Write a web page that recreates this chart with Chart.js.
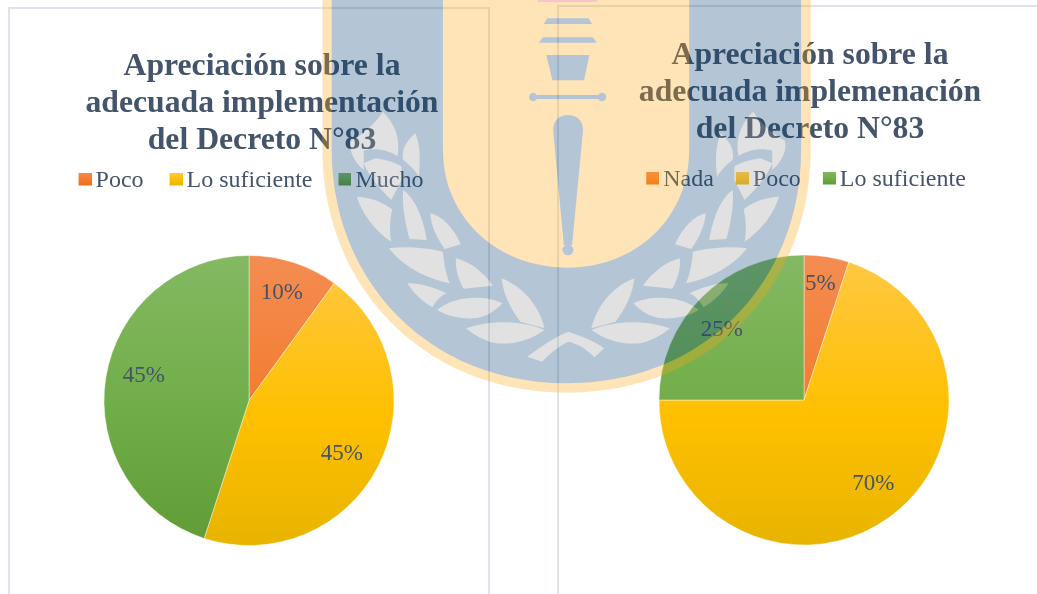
<!DOCTYPE html>
<html><head><meta charset="utf-8">
<script src="https://cdn.jsdelivr.net/npm/chart.js@4"></script>
<style>
html,body{margin:0;padding:0;background:#fff;width:1037px;height:594px;overflow:hidden}
#stage{position:relative;width:1037px;height:594px;overflow:hidden}
.frame{position:absolute;border:2px solid #DDE4EB;box-sizing:border-box}
#f1{left:8px;top:7px;width:482px;height:620px}
#f2{left:557px;top:5px;width:520px;height:620px}
canvas{position:absolute;top:0}
#mark{position:absolute;left:0;top:0;opacity:.3;pointer-events:none}
</style></head><body>
<div id="stage">
<div class="frame" id="f1"></div><div class="frame" id="f2"></div>
<div style="position:absolute;left:9px;top:0;width:480px;height:594px"><canvas id="c1"></canvas></div>
<div style="position:absolute;left:559px;top:0;width:490px;height:594px"><canvas id="c2"></canvas></div>
<svg id="mark" width="1037" height="594" viewBox="0 0 1037 594">
<defs><g id="leaves" fill="#9B9B9B">
<path d="M240,335 C285,380 290,430 283,468 C245,445 210,445 185,452 L185,510 C150,480 140,440 150,420 C175,410 220,370 240,335Z"/>
<path d="M335,400 C300,430 295,460 300,480 C325,500 340,520 345,530 C350,480 350,440 335,400Z"/>
<path d="M218,475 C250,478 280,490 295,500 L295,540 L265,600 C235,570 200,530 185,490Z"/>
<path d="M165,590 C210,592 245,610 268,628 C260,660 260,695 265,725 C215,690 180,640 165,590Z"/>
<path d="M300,570 C340,600 360,670 368,720 L318,717 C305,670 295,610 300,570Z"/>
<path d="M378,640 C420,650 450,695 467,733 L420,747 C395,710 380,675 378,640Z"/>
<path d="M258,745 C310,738 370,745 415,755 C418,795 425,825 435,850 C365,835 300,800 258,745Z"/>
<path d="M453,775 C495,785 535,820 560,857 L475,866 C460,840 450,805 453,775Z"/>
<path d="M312,850 C350,848 395,865 425,880 C405,890 393,905 385,922 C355,905 330,880 312,850Z"/>
<path d="M398,930 C450,885 540,885 588,910 C565,935 540,950 510,955 C470,957 430,950 398,930Z"/>
<path d="M585,835 C650,860 695,920 710,985 L640,965 C610,925 590,880 585,835Z"/>
<path d="M482,985 C550,960 640,960 710,990 C670,1020 620,1035 570,1030 C540,1025 505,1005 482,985Z"/>
</g></defs>
<g transform="translate(300 0) scale(.3444 .3333)">
<path fill="#FFA512" d="M65,-5 L65,450 C65,850 350,1178 775,1178 C1200,1178 1483,850 1483,450 L1483,-5Z"/>
<path fill="#084476" d="M92,-5 L92,450 C92,840 370,1150 775,1150 C1180,1150 1455,840 1455,450 L1455,-5Z"/>
<path fill="#FFA512" d="M415,-5 L415,450 C415,650 570,803 775,803 C980,803 1130,650 1130,450 L1130,-5Z"/>
<use href="#leaves"/>
<use href="#leaves" transform="translate(1556 0) scale(-1 1)"/>
<path fill="#9B9B9B" d="M660,1070 C700,1040 740,1010 780,995 C820,1010 860,1025 883,1045 L855,1072 C830,1045 805,1030 778,1025 C750,1040 725,1060 703,1085Z"/>
<rect x="690" y="-5" width="172" height="11" fill="#E83762"/>
<g fill="#084476">
<path d="M708,72 L848,72 L838,55 L718,55Z"/>
<path d="M693,128 L862,128 L850,112 L705,112Z"/>
<path d="M715,165 L840,165 L825,241 L733,241Z"/>
<rect x="675" y="285" width="205" height="12"/>
<ellipse cx="677" cy="291" rx="12" ry="13"/><ellipse cx="877" cy="291" rx="12" ry="13"/>
<path d="M735,390 C735,360 755,345 778,345 C801,345 822,360 822,390 L790,735 L766,735Z"/>
<ellipse cx="778" cy="750" rx="16" ry="16"/>
</g>
</g>
</svg>
</div>
<script>
const titleLeft = ["Apreciación sobre la", "adecuada implementación", "del Decreto N°83"];
const titleRight = ["Apreciación sobre la", "adecuada implemenación", "del Decreto N°83"];
const categoriesLeft = ["Poco", "Lo suficiente", "Mucho"];
const valuesLeft = [10, 45, 45];
const categoriesRight = ["Nada", "Poco", "Lo suficiente"];
const valuesRight = [5, 70, 25];

const ORANGE = ["#F48C52", "#F37B2E", "#EE6E1E"];
const GOLD = ["#FFC845", "#FFC000", "#E8B400"];
const GREEN = ["#84B963", "#70AD47", "#5F9C35"];
const TEXT = "#44546A";
const SERIF = "'Liberation Serif','Times New Roman',serif";
const RADIUS = 145;

function fillStops(g, c) {
  g.addColorStop(0, c[0]); g.addColorStop(0.55, c[1]); g.addColorStop(1, c[2]);
  return g;
}
function swatch(c) {
  const s = document.createElement('canvas');
  s.width = 17; s.height = 17;
  const x = s.getContext('2d');
  x.fillStyle = fillStops(x.createLinearGradient(0, 0, 0, 13), c);
  x.fillRect(4, 0, 13, 13);
  return s;
}
const pieExtras = {
  id: 'pieExtras',
  afterLayout(chart) {
    const o = chart.options.plugins.pieExtras;
    const t = chart.titleBlock, l = chart.legend;
    t.left += o.titleDx; t.right += o.titleDx;
    l.left += o.legendDx; l.right += o.legendDx;
    const h = l.bottom - l.top;
    l.top = o.legendTop; l.bottom = l.top + h;
  },
  afterDatasetsDraw(chart) {
    const o = chart.options.plugins.pieExtras;
    const ctx = chart.ctx, meta = chart.getDatasetMeta(0), data = chart.data.datasets[0].data;
    ctx.save();
    ctx.font = "23px " + SERIF; ctx.fillStyle = TEXT;
    ctx.textAlign = 'center'; ctx.textBaseline = 'middle';
    meta.data.forEach((arc, i) => {
      const p = arc.getProps(['x', 'y', 'startAngle', 'endAngle', 'outerRadius'], true);
      const a = (p.startAngle + p.endAngle) / 2 + o.labelTurn[i] * Math.PI / 180;
      const r = p.outerRadius * o.labelRadius[i];
      ctx.fillText(data[i] + '%', p.x + Math.cos(a) * r, p.y + Math.sin(a) * r);
    });
    ctx.restore();
  }
};
function makePie(id, title, categories, values, colors, o) {
  new Chart(document.getElementById(id), {
    type: 'pie',
    data: { labels: categories, datasets: [{
      data: values,
      radius: RADIUS,
      borderWidth: 0.75,
      borderColor: 'rgba(255,255,255,.55)',
      backgroundColor(ctx) {
        const a = ctx.chart.chartArea, c = colors[ctx.dataIndex];
        if (!a) return c[1];
        const m = (a.top + a.bottom) / 2;
        return fillStops(ctx.chart.ctx.createLinearGradient(0, m - RADIUS, 0, m + RADIUS), c);
      }
    }]},
    options: {
      responsive: true, maintainAspectRatio: false, animation: false,
      layout: { padding: { bottom: o.bottomPad } },
      plugins: {
        tooltip: { enabled: false },
        title: { display: true, text: title, color: TEXT,
          font: { family: SERIF, size: 31.7, weight: 'bold', lineHeight: 1.167 },
          padding: { top: o.titleTop, bottom: 0 } },
        legend: { position: 'top', labels: {
          color: TEXT, font: { family: SERIF, size: 24 },
          usePointStyle: true, pointStyleWidth: 1, boxHeight: 13, padding: o.legendPad,
          generateLabels(chart) {
            return Chart.overrides.pie.plugins.legend.labels.generateLabels(chart)
              .map((it, i) => Object.assign(it, { pointStyle: swatch(colors[i]) }));
          }
        }},
        pieExtras: o
      }
    },
    plugins: [pieExtras]
  });
}
makePie('c1', titleLeft, categoriesLeft, valuesLeft, [ORANGE, GOLD, GREEN],
  { titleTop: 48, bottomPad: 16, titleDx: 13, legendDx: 4, legendTop: 139, legendPad: 30, labelRadius: [.772, .74, .745], labelTurn: [-1, 3, 4] });
makePie('c2', titleRight, categoriesRight, valuesRight, [ORANGE, GOLD, GREEN],
  { titleTop: 37, bottomPad: 2, titleDx: 6, legendDx: 4, legendTop: 142, legendPad: 26, labelRadius: [.807, .752, .745], labelTurn: [-1, -3.4, -4.5] });
</script>
</body></html>
